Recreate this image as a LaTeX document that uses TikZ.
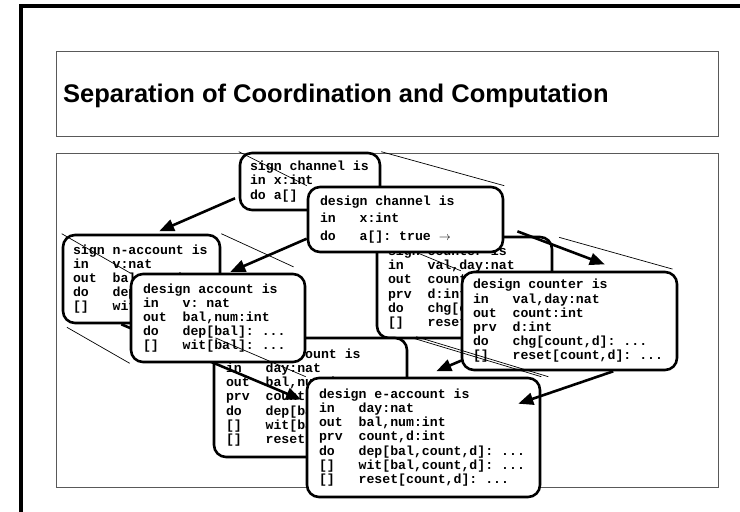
\documentclass[tikz,border=0pt]{standalone}
\usepackage{fontspec}
\setmainfont{Liberation Sans}
\setmonofont{Liberation Mono}
\usetikzlibrary{arrows.meta}

\pgfdeclarelayer{back}
\pgfsetlayers{back,main}

\newlength{\kwlen}
\newcommand{\kw}[1]{\settowidth{\kwlen}{00000}\makebox[\kwlen][l]{#1}}
\newcommand{\spectext}[1]{\ttfamily\bfseries\fontsize{13.2}{#1}\selectfont}

\tikzset{
  specbox/.style={draw, line width=2.6pt, rounded corners=12pt, fill=white,
    inner xsep=12pt, inner ysep=0pt, align=left, font=\spectext{14.2},
    execute at begin node={\spaceskip 0.6em\xspaceskip 0.6em\relax}},
  chanbox/.style={specbox, font=\spectext{17.5}},
  refline/.style={line width=0.7pt},
  flow/.style={line width=2.6pt, -{Triangle[length=15pt,width=12pt]}},
  frame/.style={draw=black!65, line width=1pt}
}

\begin{document}
\begin{tikzpicture}[x=1pt,y=-1pt]
\useasboundingbox (0,0) rectangle (740,512);

% designs
\node[chanbox, text width=171pt, minimum height=65pt] (dch) at (405.5,219.5)
  {design channel is\\ \kw{in}x:int\\ \kw{do}a[]: true $\rightarrow$};
\node[specbox, text width=150pt, minimum height=88pt] (dac) at (218,318)
  {design account is\\ \kw{in}v: nat\\ \kw{out}bal,num:int\\ \kw{do}dep[bal]: ...\\ \kw{[]}wit[bal]: ...};
\node[specbox, inner xsep=11pt, text width=193pt, minimum height=98pt] (dcn) at (569.5,321)
  {design counter is\\ \kw{in}val,day:nat\\ \kw{out}count:int\\ \kw{prv}d:int\\ \kw{do}chg[count,d]: ...\\ \kw{[]}reset[count,d]: ...};
\node[specbox, text width=209pt, minimum height=119pt] (dea) at (423.5,437.5)
  {design e-account is\\ \kw{in}day:nat\\ \kw{out}bal,num:int\\ \kw{prv}count,d:int\\ \kw{do}dep[bal,count,d]: ...\\ \kw{[]}wit[bal,count,d]: ...\\ \kw{[]}reset[count,d]: ...};

% signatures
\begin{pgfonlayer}{back}
  \draw[line width=3.5pt] (740,6) -- (21,6) -- (21,512);
  \draw[frame] (56,51) rectangle (718,136);
  \draw[frame] (56,153) rectangle (718,487);
  \node[anchor=base west, inner sep=0pt, font=\bfseries\fontsize{25.5}{30}\selectfont] (title) at (63,102)
    {Separation of Coordination and Computation};

  \node[specbox, inner xsep=10pt, text width=120pt, minimum height=57pt] (sch) at (310,181.5)
    {sign channel is\\ in x:int\\ do a[]};
  \draw[refline] (sch.north west) -- (dch.north west);
  \draw[refline] (sch.north east) -- (dch.north east);

  \node[specbox, inner xsep=10pt, text width=137pt, minimum height=88pt] (sna) at (141.5,279)
    {sign n-account is\\ \kw{in}v:nat\\ \kw{out}bal,num:int\\ \kw{do}dep[bal]\\ \kw{[]}wit[bal]};
  \draw[refline] (sna.north west) -- (dac.north west);
  \draw[refline, shorten >=14pt] (sna.north east) -- (dac.north east);
  \draw[refline, shorten <=6pt] (sna.south west) -- (dac.south west);

  \node[specbox, inner xsep=11pt, text width=153pt, minimum height=101pt] (scn) at (464.5,287.5)
    {sign counter is\\ \kw{in}val,day:nat\\ \kw{out}count:int\\ \kw{prv}d:int\\ \kw{do}chg[count,d]\\ \kw{[]}reset[count,d]};
  \draw[refline] (scn.north west) -- (dcn.north west);
  \draw[refline, shorten <=6pt, shorten >=6pt] (scn.north east) -- (dcn.north east);
  \draw[flow, shorten >=14pt] (scn.312) -- (dea.north);

  \node[specbox, text width=169pt, minimum height=119pt] (sea) at (310.5,397.5)
    {sign e-account is\\ \kw{in}day:nat\\ \kw{out}bal,num:int\\ \kw{prv}count,d:int\\ \kw{do}dep[bal,count,d]\\ \kw{[]}wit[bal,count,d]\\ \kw{[]}reset[count,d]};
  \draw[flow, shorten >=5pt] (sna.246) -- (dea.163);
  \draw[flow, shorten <=4pt, shorten >=6pt] (sch.192) -- (sna.75);
\end{pgfonlayer}

\draw[refline, shorten <=3pt] (sea.north west) -- (dea.north west);
\draw[refline, shorten <=6pt] (sea.north east) -- (dea.north east);
\draw[refline] ([xshift=8pt]sea.north east) -- ([xshift=7pt]dea.north east);

% connections
\draw[flow, shorten >=2pt] (dch.191) -- (dac.77);
\draw[flow, shorten <=14pt, shorten >=18pt] (dch.-4) -- (dcn.44);
\draw[flow] (dcn.311) -- ([shift={(-23,27)}]dea.north east);
\end{tikzpicture}
\end{document}
